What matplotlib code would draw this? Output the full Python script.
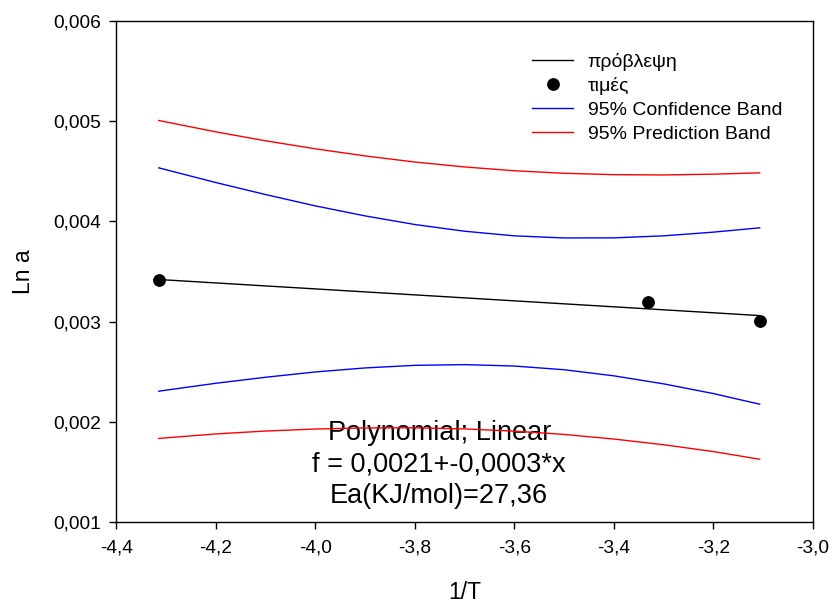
import matplotlib
matplotlib.use("Agg")
import matplotlib.pyplot as plt
from matplotlib.ticker import FuncFormatter

plt.rcParams['font.family'] = ['Liberation Sans', 'DejaVu Sans']

# measured points
x_pts = [-4.315, -3.332, -3.107]
y_pts = [0.00342, 0.00320, 0.00301]

# linear fit line (end points)
x_fit = [-4.315, -3.107]
y_fit = [0.00342, 0.00306]

# bands
x_band = [-4.315, -4.2, -4.1, -4.0, -3.9, -3.8, -3.7, -3.6, -3.5, -3.4, -3.3, -3.2, -3.107]
conf_hi = [0.004535, 0.004388, 0.004268, 0.004155, 0.004055, 0.003969, 0.003902,
           0.003856, 0.003835, 0.003836, 0.003856, 0.003893, 0.003936]
conf_lo = [0.002305, 0.002384, 0.002444, 0.002497, 0.002537, 0.002563, 0.002570,
           0.002556, 0.002519, 0.002458, 0.002378, 0.002281, 0.002175]
pred_hi = [0.005008, 0.004894, 0.004805, 0.004725, 0.004654, 0.004593, 0.004544,
           0.004506, 0.004481, 0.004467, 0.004464, 0.004472, 0.004485]
pred_lo = [0.001833, 0.001878, 0.001907, 0.001927, 0.001938, 0.001939, 0.001928,
           0.001906, 0.001873, 0.001827, 0.001770, 0.001702, 0.001625]

x_ticks = [-4.4, -4.2, -4.0, -3.8, -3.6, -3.4, -3.2, -3.0]
y_ticks = [0.001, 0.002, 0.003, 0.004, 0.005, 0.006]

fig = plt.figure(figsize=(8.32, 6.04), dpi=100)
ax = fig.add_axes([0.14, 0.136, 0.837, 0.829])

ax.plot(x_fit, y_fit, color="black", lw=1.0, label="πρόβλεψη")
ax.plot(x_pts, y_pts, "o", color="black", ms=8.2, label="τιμές")
ax.plot(x_band, conf_hi, color="blue", lw=1.0, label="95% Confidence Band")
ax.plot(x_band, conf_lo, color="blue", lw=1.0)
ax.plot(x_band, pred_hi, color="red", lw=1.0, label="95% Prediction Band")
ax.plot(x_band, pred_lo, color="red", lw=1.0)

ax.text(-3.751, 0.00157, "Polynomial; Linear\nf = 0,0021+-0,0003*x\nEa(KJ/mol)=27,36",
        ha="center", va="center", fontsize=19.5, linespacing=1.28, zorder=1)

ax.set_xlim(-4.4, -3.0)
ax.set_ylim(0.001, 0.006)
ax.set_xticks(x_ticks)
ax.set_yticks(y_ticks)
ax.xaxis.set_major_formatter(FuncFormatter(lambda v, p: f"{v:.1f}".replace(".", ",")))
ax.yaxis.set_major_formatter(FuncFormatter(lambda v, p: f"{v:.3f}".replace(".", ",")))
ax.tick_params(direction="out", length=5, width=1, labelsize=13.8, top=False, right=False)
ax.tick_params(axis="x", pad=8)
ax.tick_params(axis="y", pad=6)
for s in ax.spines.values():
    s.set_linewidth(1.0)

ax.set_xlabel("1/T", fontsize=16.5, labelpad=17)
ax.set_ylabel("Ln a", fontsize=16.5, labelpad=13)

ax.legend(loc="upper left", bbox_to_anchor=(0.597, 0.937), frameon=False,
          fontsize=14, handlelength=2.1, handletextpad=0.75, labelspacing=0.32,
          borderpad=0, borderaxespad=0)

fig.savefig("out.png", dpi=100)
